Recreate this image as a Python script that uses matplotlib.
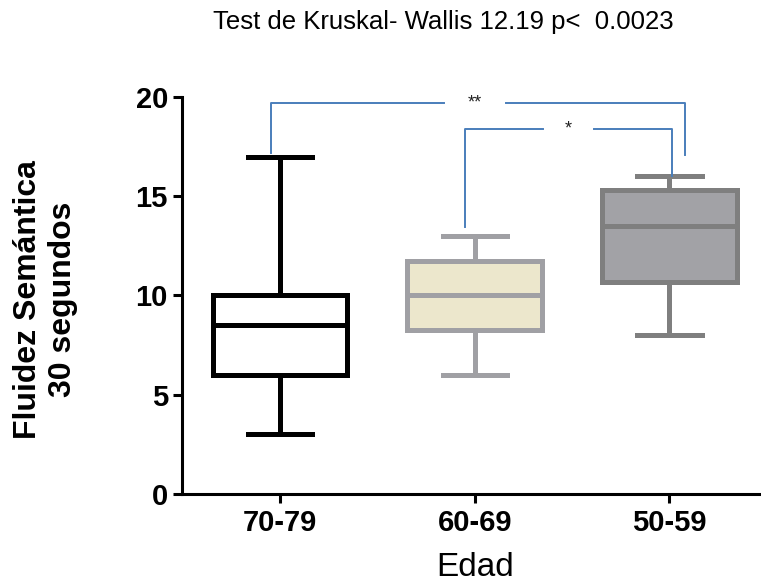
import matplotlib
matplotlib.use("Agg")
import matplotlib.pyplot as plt

# datos
GRUPOS = ["70-79", "60-69", "50-59"]
MINIMOS = [3, 6, 8]
Q1 = [6, 8.25, 10.7]
MEDIANAS = [8.5, 10, 13.5]
Q3 = [10, 11.75, 15.3]
MAXIMOS = [17, 13, 16]

BORDES = ["#000000", "#a0a0a4", "#7f7f7f"]
RELLENOS = ["#ffffff", "#ece7cc", "#a2a2a6"]

# comparaciones: grupo a, grupo b, altura, pie izq, pie der, texto
COMP_A = [1, 2]
COMP_B = [3, 3]
COMP_ALTURA = [19.7, 18.4]
COMP_PIE_A = [17.2, 13.45]
COMP_PIE_B = [17.1, 16.0]
COMP_TEXTO = ["**", "*"]

TITULO = "Test de Kruskal- Wallis 12.19 p<  0.0023"
YLABEL = "Fluidez Semántica\n30 segundos"
XLABEL = "Edad"

plt.rcParams["font.family"] = ["Liberation Sans", "DejaVu Sans"]

fig = plt.figure(figsize=(7.61, 5.87), dpi=100)
ax = fig.add_axes([0.2398, 0.1584, 0.7602, 0.6764])

posiciones = list(range(1, len(GRUPOS) + 1))
for i, pos in enumerate(posiciones):
    stats = [{"whislo": MINIMOS[i], "q1": Q1[i], "med": MEDIANAS[i],
              "q3": Q3[i], "whishi": MAXIMOS[i], "fliers": []}]
    lw = 3.6
    ax.bxp(stats, positions=[pos], widths=0.69, patch_artist=True,
           showfliers=False,
           boxprops=dict(facecolor=RELLENOS[i], edgecolor=BORDES[i], linewidth=lw),
           medianprops=dict(color=BORDES[i], linewidth=lw),
           whiskerprops=dict(color=BORDES[i], linewidth=lw),
           capprops=dict(color=BORDES[i], linewidth=lw),
           capwidths=0.33)

# corchetes de significancia
azul = "#4a7ebb"
for a, b, h, pa, pb, txt in zip(COMP_A, COMP_B, COMP_ALTURA, COMP_PIE_A,
                                 COMP_PIE_B, COMP_TEXTO):
    xa = a - 0.046 if a == 1 else a - 0.05
    xb = b + 0.08 if txt == "**" else b + 0.015
    xm = (xa + xb) / 2 if txt == "*" else 2.0
    gap = 0.16 if txt == "**" else 0.13
    ax.plot([xa, xa, xm - gap], [pa, h, h], color=azul, lw=1.4, clip_on=False)
    ax.plot([xm + gap, xb, xb], [h, h, pb], color=azul, lw=1.4, clip_on=False)
    ax.text(xm, h, txt, ha="center", va="center", fontsize=13, color="#222222")

ax.set_xlim(0.5, 3.47)
ax.set_ylim(0, 20)
ax.set_yticks([0, 5, 10, 15, 20])
ax.set_xticks(posiciones)
ax.set_xticklabels(GRUPOS)

for s in ["top", "right"]:
    ax.spines[s].set_visible(False)
for s in ["left", "bottom"]:
    ax.spines[s].set_linewidth(2.2)
ax.tick_params(axis="both", direction="out", length=6.5, width=2.2,
               labelsize=21, pad=4)
for lbl in ax.get_xticklabels() + ax.get_yticklabels():
    lbl.set_fontweight("bold")

ax.set_xlabel(XLABEL, fontsize=24)
ax.xaxis.set_label_coords(0.505, -0.145)
ax.set_ylabel(YLABEL, fontsize=23, fontweight="bold", linespacing=1.22)
ax.yaxis.set_label_coords(-0.181, 0.49)
fig.text(0.582, 0.962, TITULO, ha="center", va="center", fontsize=18.5)

fig.savefig("out.png", dpi=100)
